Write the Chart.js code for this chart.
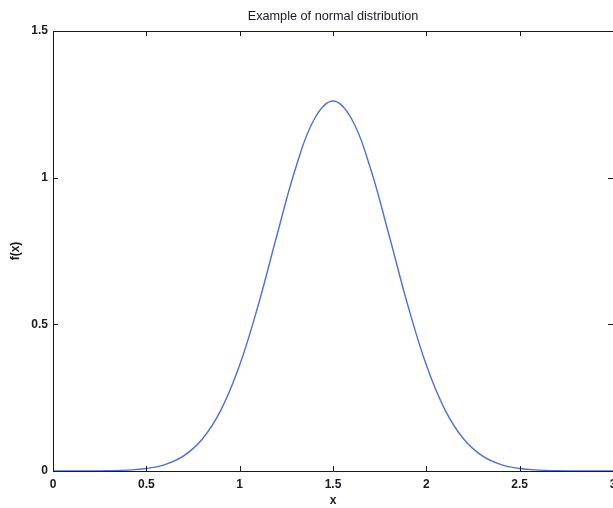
<!DOCTYPE html>
<html>
<head>
<meta charset="utf-8">
<script src="https://cdn.jsdelivr.net/npm/chart.js@4"></script>
<style>
  html, body { margin: 0; padding: 0; background: #fff; overflow: hidden; }
  #wrap { width: 630px; height: 508px; position: relative; }
</style>
</head>
<body>
<div id="wrap"><canvas id="c"></canvas></div>
<script>
// Data
const xValues = [0.0, 0.1, 0.2, 0.3, 0.4, 0.5, 0.6, 0.7, 0.8, 0.9, 1.0,
                 1.1, 1.2, 1.3, 1.4, 1.5, 1.6, 1.7, 1.8, 1.9, 2.0,
                 2.1, 2.2, 2.3, 2.4, 2.5, 2.6, 2.7, 2.8, 2.9, 3.0];
const fValues = [0.0000, 0.0001, 0.0003, 0.0009, 0.0030, 0.0085, 0.0220, 0.0514, 0.1089, 0.2085, 0.3614,
                 0.5669, 0.8044, 1.0329, 1.2000, 1.2616, 1.2000, 1.0329, 0.8044, 0.5669, 0.3614,
                 0.2085, 0.1089, 0.0514, 0.0220, 0.0085, 0.0030, 0.0009, 0.0003, 0.0001, 0.0000];
const xTickLabels = ['0', '0.5', '1', '1.5', '2', '2.5', '3'];
const yTickLabels = ['0', '0.5', '1', '1.5'];
const titleText = 'Example of normal distribution';
const xLabel = 'x';
const yLabel = 'f(x)';

const points = xValues.map((x, i) => ({ x: x, y: fValues[i] }));
const FONT = "'Liberation Sans', Arial, sans-serif";
const INK = '#1a1a22';

const boxPlugin = {
  id: 'boxTicks',
  afterDatasetsDraw(chart) {
    const { ctx, chartArea: a, scales: { x, y } } = chart;
    const L = 5;
    ctx.save();
    ctx.strokeStyle = INK;
    ctx.lineWidth = 1;
    ctx.beginPath();
    ctx.moveTo(a.left + 0.5, a.top + 0.5); ctx.lineTo(a.right + 0.5, a.top + 0.5);
    ctx.moveTo(a.left + 0.5, a.bottom + 0.5); ctx.lineTo(a.right + 0.5, a.bottom + 0.5);
    ctx.moveTo(a.left + 0.5, a.top + 0.5); ctx.lineTo(a.left + 0.5, a.bottom + 0.5);
    ctx.moveTo(a.right + 0.5, a.top + 0.5); ctx.lineTo(a.right + 0.5, a.bottom + 0.5);
    x.ticks.forEach(t => {
      const px = Math.round(x.getPixelForValue(t.value)) + 0.5;
      ctx.moveTo(px, a.bottom); ctx.lineTo(px, a.bottom - L);
      ctx.moveTo(px, a.top); ctx.lineTo(px, a.top + L);
    });
    y.ticks.forEach(t => {
      const py = Math.round(y.getPixelForValue(t.value)) + 0.5;
      ctx.moveTo(a.left, py); ctx.lineTo(a.left + L, py);
      ctx.moveTo(a.right, py); ctx.lineTo(a.right - L, py);
    });
    ctx.stroke();
    ctx.restore();
  }
};

new Chart(document.getElementById('c'), {
  type: 'line',
  data: {
    datasets: [{
      data: points,
      borderColor: '#4d70d8',
      borderWidth: 1.4,
      pointRadius: 0,
      fill: false,
      tension: 0.4,
      clip: 4
    }]
  },
  options: {
    responsive: true,
    maintainAspectRatio: false,
    animation: false,
    layout: { padding: { left: 0, right: 17, top: 0, bottom: 0 } },
    plugins: {
      legend: { display: false },
      tooltip: { enabled: false },
      title: { display: false }
    },
    scales: {
      x: {
        type: 'linear',
        position: 'bottom',
        min: 0, max: 3,
        afterFit: s => { s.height = 37; },
        grid: { display: false, drawTicks: false },
        border: { display: false },
        ticks: {
          stepSize: 0.5,
          padding: 6,
          color: INK,
          maxRotation: 0,
          font: { family: FONT, size: 12, weight: 'bold' },
          callback: (v, i) => xTickLabels[i]
        },
        title: {
          display: true,
          text: xLabel,
          color: INK,
          font: { family: FONT, size: 12, weight: 'bold' },
          padding: { top: 0, bottom: 0 }
        }
      },
      top: {
        type: 'linear',
        position: 'top',
        afterFit: s => { s.height = 31; },
        grid: { display: false, drawTicks: false },
        border: { display: false },
        ticks: { display: false },
        title: {
          display: true,
          text: titleText,
          color: INK,
          font: { family: FONT, size: 12.7 },
          padding: { top: 9, bottom: 0 }
        }
      },
      y: {
        type: 'linear',
        min: 0, max: 1.5,
        afterFit: s => { s.width = 53; },
        grid: { display: false, drawTicks: false },
        border: { display: false },
        ticks: {
          stepSize: 0.5,
          padding: 5,
          color: INK,
          font: { family: FONT, size: 12, weight: 'bold' },
          callback: (v, i) => yTickLabels[i]
        },
        title: {
          display: true,
          text: yLabel,
          color: INK,
          font: { family: FONT, size: 12, weight: 'bold' },
          padding: { top: 8, bottom: 0 }
        }
      }
    }
  },
  plugins: [boxPlugin]
});
</script>
</body>
</html>
